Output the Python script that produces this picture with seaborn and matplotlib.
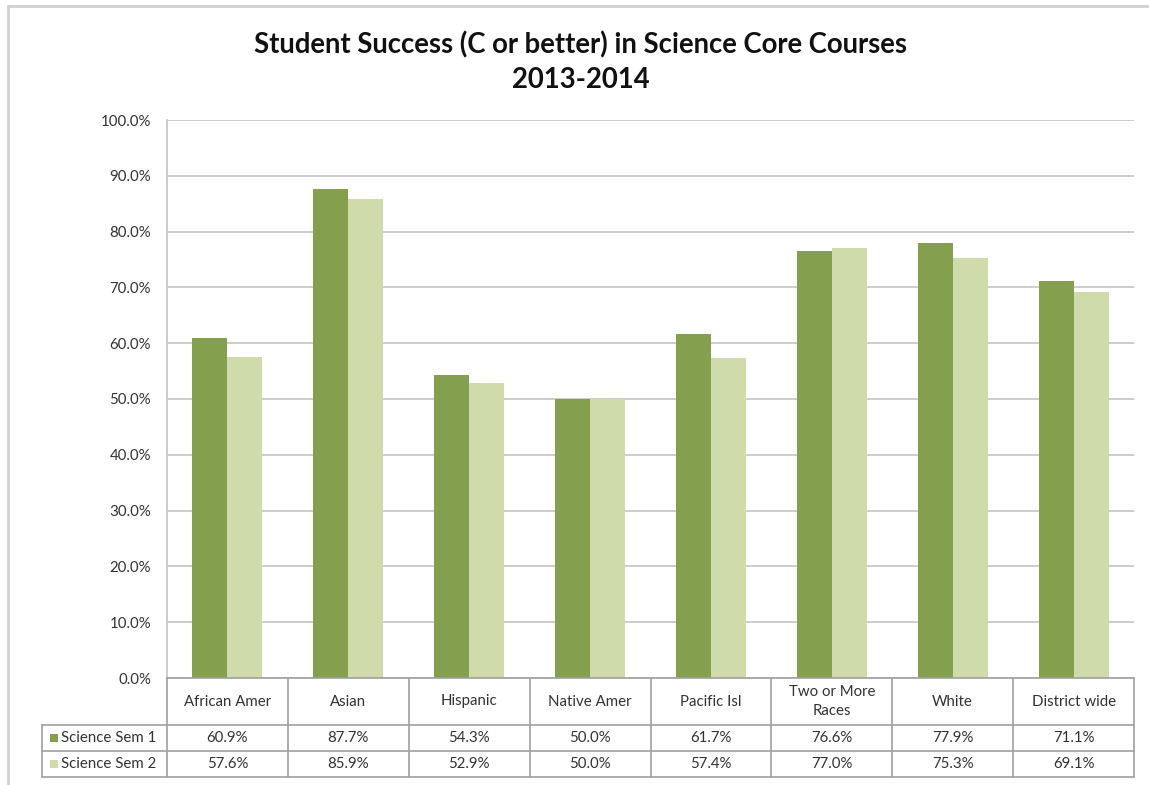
"""Student success in science core courses, bar chart with data table."""
import matplotlib.pyplot as plt
import matplotlib.transforms as mtrans
import pandas as pd
import seaborn as sns
from matplotlib.lines import Line2D
from matplotlib.patches import Rectangle
from matplotlib.ticker import FuncFormatter

categories = ['African Amer', 'Asian', 'Hispanic', 'Native Amer', 'Pacific Isl',
              'Two or More\nRaces', 'White', 'District wide']
series = ['Science Sem 1', 'Science Sem 2']
sem1 = [60.9, 87.7, 54.3, 50.0, 61.7, 76.6, 77.9, 71.1]
sem2 = [57.6, 85.9, 52.9, 50.0, 57.4, 77.0, 75.3, 69.1]
colors = ['#84A04E', '#CFDBAA']

sns.set_style('white')
plt.rcParams['font.family'] = ['Lato', 'DejaVu Sans']

W, H = 1149, 785
FS = 10.8
TXT = '#333333'


def fx(px):
    return px / W


def fy(py):
    return 1 - py / H


df = pd.DataFrame({
    'category': categories * 2,
    'series': [series[0]] * len(categories) + [series[1]] * len(categories),
    'value': sem1 + sem2,
})

fig = plt.figure(figsize=(W / 100, H / 100), dpi=100)
ax = fig.add_axes([fx(167), fy(678), fx(1134) - fx(167), fy(120) - fy(678)])

sns.barplot(data=df, x='category', y='value', hue='series', palette=colors,
            width=0.58, saturation=1, legend=False, ax=ax, zorder=3,
            linewidth=0, edgecolor='none')

ax.set_xlim(-0.5, len(categories) - 0.5)
ax.set_ylim(0, 100)
ax.set_yticks(range(0, 101, 10))
ax.yaxis.set_major_formatter(FuncFormatter(lambda v, p: f'{v:.1f}%'))
ax.tick_params(axis='y', length=0, pad=11.5, labelsize=FS, labelcolor=TXT)
ax.set_xticks([])
ax.set_xlabel('')
ax.set_ylabel('')
ax.yaxis.grid(True, color='#C8C8C8', lw=1.3, zorder=0)
for s in ['top', 'right', 'bottom']:
    ax.spines[s].set_visible(False)
ax.spines['left'].set_color('#C8C8C8')
ax.spines['left'].set_linewidth(1.3)

# title
fig.text(fx(581), fy(45), 'Student Success (C or better) in Science Core Courses',
         ha='center', va='center', fontsize=19.8, fontweight='bold', color='#111111')
fig.text(fx(581), fy(80), '2013-2014', ha='center', va='center',
         fontsize=19.8, fontweight='bold', color='#111111')

# data table
trans = mtrans.blended_transform_factory(ax.transData, fig.transFigure)
lc = '#A0A0A0'
y_top, y_h, y_r1, y_r2 = fy(678), fy(725), fy(751), fy(777)
for k in range(len(categories) + 1):
    fig.add_artist(Line2D([k - 0.5, k - 0.5], [y_top, y_r2], transform=trans,
                          color=lc, lw=1.2))
fig.add_artist(Line2D([-0.5, len(categories) - 0.5], [y_top, y_top],
                      transform=trans, color=lc, lw=1.2))
for yy in [y_h, y_r1, y_r2]:
    fig.add_artist(Line2D([fx(42), fx(1134)], [yy, yy], color=lc, lw=1.2))
fig.add_artist(Line2D([fx(42), fx(42)], [y_h, y_r2], color=lc, lw=1.2))

for k, cat in enumerate(categories):
    fig.text(k, (y_top + y_h) / 2, cat, transform=trans, ha='center',
             va='center', fontsize=FS, color=TXT, linespacing=1.5)
    fig.text(k, (y_h + y_r1) / 2, f'{sem1[k]:.1f}%', transform=trans,
             ha='center', va='center', fontsize=FS, color=TXT)
    fig.text(k, (y_r1 + y_r2) / 2, f'{sem2[k]:.1f}%', transform=trans,
             ha='center', va='center', fontsize=FS, color=TXT)

for i, (name, y0, y1) in enumerate([(series[0], y_h, y_r1), (series[1], y_r1, y_r2)]):
    yc = (y0 + y1) / 2
    fig.add_artist(Rectangle((fx(50), yc - 4 / H), 8 / W, 8 / H,
                             transform=fig.transFigure, color=colors[i], lw=0))
    fig.text(fx(61), yc, name, ha='left', va='center', fontsize=FS, color=TXT)

# outer frame
fig.add_artist(Line2D([fx(8), fx(8)], [fy(6), 0], color='#CFCFCF', lw=2))
fig.add_artist(Line2D([fx(8), 1], [fy(6), fy(6)], color='#CFCFCF', lw=2))

fig.savefig('out.png', dpi=100)
